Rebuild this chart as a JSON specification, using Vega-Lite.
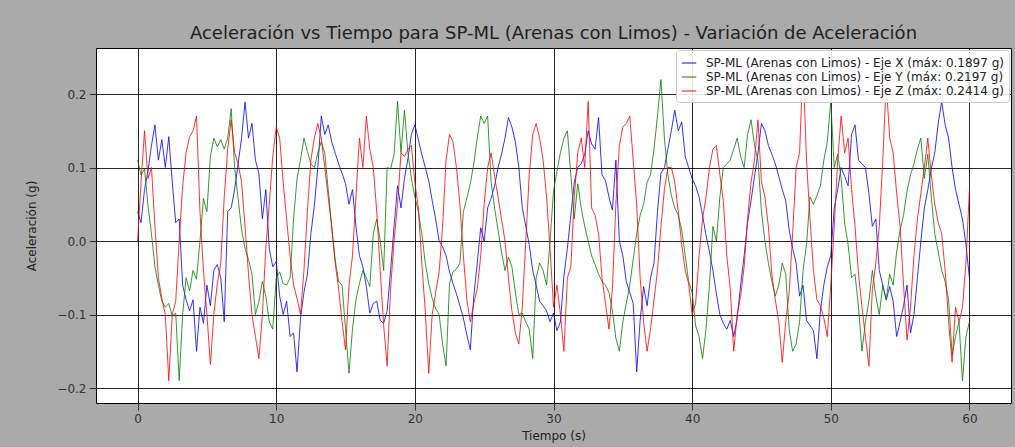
{
"$schema": "https://vega.github.io/schema/vega-lite/v6.json",
"width": 915,
"height": 355,
"autosize": {"type": "none"},
"padding": {"left": 96, "top": 48, "right": 4, "bottom": 44},
"background": "#aaaaaa",
"title": {"text": "Aceleración vs Tiempo para SP-ML (Arenas con Limos) - Variación de Aceleración", "font": "DejaVu Sans", "fontSize": 18, "fontWeight": "normal", "color": "#222222", "offset": 5, "anchor": "middle"},
"data": {"values": [
{"t":0,"x":0.04,"y":0.11,"z":0},
{"t":0.25,"x":0.025,"y":0.09,"z":0.08},
{"t":0.5,"x":0.07,"y":0.098,"z":0.15},
{"t":0.75,"x":0.095,"y":0.048,"z":0.085},
{"t":1,"x":0.13,"y":0.01,"z":0.1},
{"t":1.25,"x":0.158,"y":-0.035,"z":0.02},
{"t":1.5,"x":0.11,"y":-0.06,"z":-0.05},
{"t":1.75,"x":0.138,"y":-0.082,"z":-0.078},
{"t":2,"x":0.1,"y":-0.09,"z":-0.1},
{"t":2.25,"x":0.142,"y":-0.085,"z":-0.19},
{"t":2.5,"x":0.08,"y":-0.102,"z":-0.1},
{"t":2.75,"x":0.025,"y":-0.098,"z":-0.082},
{"t":3,"x":0.03,"y":-0.19,"z":0},
{"t":3.25,"x":-0.06,"y":-0.1,"z":0.075},
{"t":3.5,"x":-0.08,"y":-0.05,"z":0.12},
{"t":3.75,"x":-0.095,"y":-0.068,"z":0.142},
{"t":4,"x":-0.08,"y":-0.04,"z":0.15},
{"t":4.25,"x":-0.15,"y":-0.052,"z":0.17},
{"t":4.5,"x":-0.09,"y":0,"z":0.04},
{"t":4.75,"x":-0.112,"y":0.058,"z":-0.04},
{"t":5,"x":-0.06,"y":0.04,"z":-0.1},
{"t":5.25,"x":-0.088,"y":0.115,"z":-0.168},
{"t":5.5,"x":-0.04,"y":0.14,"z":-0.1},
{"t":5.75,"x":-0.032,"y":0.128,"z":-0.058},
{"t":6,"x":-0.05,"y":0.138,"z":-0.03},
{"t":6.25,"x":-0.11,"y":0.125,"z":0.06},
{"t":6.5,"x":0.04,"y":0.14,"z":0.125},
{"t":6.75,"x":0.045,"y":0.18,"z":0.165},
{"t":7,"x":0.07,"y":0.1,"z":0.12},
{"t":7.25,"x":0.105,"y":0.058,"z":0.105},
{"t":7.5,"x":0.14,"y":0.015,"z":0.08},
{"t":7.75,"x":0.189,"y":-0.01,"z":0.02},
{"t":8,"x":0.14,"y":-0.025,"z":-0.045},
{"t":8.25,"x":0.16,"y":-0.045,"z":-0.1},
{"t":8.5,"x":0.11,"y":-0.1,"z":-0.13},
{"t":8.75,"x":0.092,"y":-0.082,"z":-0.16},
{"t":9,"x":0.03,"y":-0.055,"z":-0.1},
{"t":9.25,"x":0.07,"y":-0.075,"z":-0.01},
{"t":9.5,"x":-0.01,"y":-0.11,"z":0.05},
{"t":9.75,"x":-0.035,"y":-0.12,"z":0.115},
{"t":10,"x":-0.028,"y":-0.05,"z":0.155},
{"t":10.25,"x":-0.075,"y":-0.042,"z":0.14},
{"t":10.5,"x":-0.1,"y":-0.058,"z":0.08},
{"t":10.75,"x":-0.082,"y":-0.06,"z":0.03},
{"t":11,"x":-0.13,"y":-0.05,"z":-0.02},
{"t":11.25,"x":-0.125,"y":0.03,"z":-0.06},
{"t":11.5,"x":-0.178,"y":0.085,"z":-0.078},
{"t":11.75,"x":-0.105,"y":0.11,"z":-0.1},
{"t":12,"x":-0.07,"y":0.14,"z":-0.04},
{"t":12.25,"x":-0.045,"y":0.122,"z":0.04},
{"t":12.5,"x":0.01,"y":0.105,"z":0.11},
{"t":12.75,"x":0.048,"y":0.1,"z":0.14},
{"t":13,"x":0.1,"y":0.12,"z":0.16},
{"t":13.25,"x":0.17,"y":0.135,"z":0.14},
{"t":13.5,"x":0.145,"y":0.12,"z":0.1},
{"t":13.75,"x":0.158,"y":0.07,"z":0.06},
{"t":14,"x":0.135,"y":0.02,"z":0.02},
{"t":14.25,"x":0.12,"y":-0.025,"z":-0.03},
{"t":14.5,"x":0.105,"y":-0.055,"z":-0.065},
{"t":14.75,"x":0.092,"y":-0.06,"z":-0.11},
{"t":15,"x":0.078,"y":-0.12,"z":-0.148},
{"t":15.25,"x":0.05,"y":-0.18,"z":-0.06},
{"t":15.5,"x":0.07,"y":-0.12,"z":-0.02},
{"t":15.75,"x":0.02,"y":-0.08,"z":0.06},
{"t":16,"x":-0.02,"y":-0.058,"z":0.14},
{"t":16.25,"x":-0.035,"y":-0.04,"z":0.1},
{"t":16.5,"x":-0.062,"y":-0.05,"z":0.17},
{"t":16.75,"x":-0.098,"y":-0.062,"z":0.125},
{"t":17,"x":-0.085,"y":0.01,"z":0.1},
{"t":17.25,"x":-0.082,"y":0.03,"z":0.04},
{"t":17.5,"x":-0.108,"y":0,"z":-0.04},
{"t":17.75,"x":-0.112,"y":-0.04,"z":-0.115},
{"t":18,"x":-0.095,"y":0.1,"z":-0.17},
{"t":18.25,"x":-0.04,"y":0.098,"z":-0.065},
{"t":18.5,"x":0.02,"y":0.118,"z":0},
{"t":18.75,"x":0.075,"y":0.19,"z":0.05},
{"t":19,"x":0.045,"y":0.12,"z":0.12},
{"t":19.25,"x":0.085,"y":0.178,"z":0.115},
{"t":19.5,"x":0.112,"y":0.12,"z":0.125},
{"t":19.75,"x":0.145,"y":0.085,"z":0.13},
{"t":20,"x":0.158,"y":0.06,"z":0.08},
{"t":20.25,"x":0.138,"y":0.04,"z":0.045},
{"t":20.5,"x":0.118,"y":0.01,"z":-0.03},
{"t":20.75,"x":0.1,"y":-0.03,"z":-0.095},
{"t":21,"x":0.082,"y":-0.058,"z":-0.18},
{"t":21.25,"x":0.055,"y":-0.078,"z":-0.1},
{"t":21.5,"x":0.03,"y":-0.092,"z":-0.07},
{"t":21.75,"x":0,"y":-0.1,"z":-0.042},
{"t":22,"x":-0.008,"y":-0.14,"z":0.02},
{"t":22.25,"x":-0.02,"y":-0.17,"z":0.11},
{"t":22.5,"x":-0.042,"y":-0.058,"z":0.145},
{"t":22.75,"x":-0.058,"y":-0.042,"z":0.135},
{"t":23,"x":-0.072,"y":-0.038,"z":0.1},
{"t":23.25,"x":-0.088,"y":-0.03,"z":0.05},
{"t":23.5,"x":-0.105,"y":0.04,"z":-0.02},
{"t":23.75,"x":-0.128,"y":0.058,"z":-0.08},
{"t":24,"x":-0.148,"y":0.078,"z":-0.11},
{"t":24.25,"x":-0.075,"y":0.105,"z":-0.085},
{"t":24.5,"x":-0.03,"y":0.14,"z":-0.065},
{"t":24.75,"x":0.018,"y":0.17,"z":-0.02},
{"t":25,"x":0,"y":0.16,"z":0.05},
{"t":25.25,"x":0.045,"y":0.17,"z":0.1},
{"t":25.5,"x":0.058,"y":0.08,"z":0.12},
{"t":25.75,"x":0.075,"y":0.045,"z":0.088},
{"t":26,"x":0.1,"y":0.015,"z":0.06},
{"t":26.25,"x":0.118,"y":-0.015,"z":0.03},
{"t":26.5,"x":0.14,"y":-0.04,"z":0},
{"t":26.75,"x":0.168,"y":-0.022,"z":-0.05},
{"t":27,"x":0.155,"y":-0.035,"z":-0.095},
{"t":27.25,"x":0.135,"y":-0.07,"z":-0.125},
{"t":27.5,"x":0.1,"y":-0.1,"z":-0.14},
{"t":27.75,"x":0.045,"y":-0.098,"z":-0.09},
{"t":28,"x":0.02,"y":-0.11,"z":0},
{"t":28.25,"x":-0.005,"y":-0.12,"z":0.09},
{"t":28.5,"x":-0.04,"y":-0.16,"z":0.145},
{"t":28.75,"x":-0.06,"y":-0.05,"z":0.16},
{"t":29,"x":-0.082,"y":-0.03,"z":0.14},
{"t":29.25,"x":-0.088,"y":-0.04,"z":0.11},
{"t":29.5,"x":-0.095,"y":-0.06,"z":0.06},
{"t":29.75,"x":-0.11,"y":0,"z":-0.01},
{"t":30,"x":-0.098,"y":0.068,"z":-0.09},
{"t":30.25,"x":-0.122,"y":0.095,"z":-0.06},
{"t":30.5,"x":-0.11,"y":0.12,"z":-0.1},
{"t":30.75,"x":-0.048,"y":0.14,"z":-0.15},
{"t":31,"x":-0.01,"y":0.15,"z":-0.05},
{"t":31.25,"x":0.035,"y":0.09,"z":-0.035},
{"t":31.5,"x":0.08,"y":0.03,"z":0.06},
{"t":31.75,"x":0.1,"y":0.078,"z":0.12},
{"t":32,"x":0.105,"y":0.045,"z":0.14},
{"t":32.25,"x":0.118,"y":0.02,"z":0.1},
{"t":32.5,"x":0.15,"y":0,"z":0.19},
{"t":32.75,"x":0.132,"y":-0.02,"z":0.045},
{"t":33,"x":0.125,"y":-0.032,"z":0.035},
{"t":33.25,"x":0.168,"y":-0.045,"z":0.01},
{"t":33.5,"x":0.09,"y":-0.055,"z":-0.05},
{"t":33.75,"x":0.082,"y":-0.06,"z":-0.085},
{"t":34,"x":0.06,"y":-0.07,"z":-0.12},
{"t":34.25,"x":0.042,"y":-0.095,"z":-0.065},
{"t":34.5,"x":0.11,"y":-0.132,"z":0.05},
{"t":34.75,"x":0,"y":-0.15,"z":0.13},
{"t":35,"x":-0.02,"y":-0.11,"z":0.155},
{"t":35.25,"x":-0.055,"y":-0.085,"z":0.16},
{"t":35.5,"x":-0.07,"y":-0.06,"z":0.17},
{"t":35.75,"x":-0.085,"y":-0.025,"z":0.11},
{"t":36,"x":-0.178,"y":0.01,"z":0.05},
{"t":36.25,"x":-0.108,"y":0.035,"z":-0.05},
{"t":36.5,"x":-0.062,"y":0.05,"z":-0.11},
{"t":36.75,"x":-0.088,"y":0.08,"z":-0.15},
{"t":37,"x":-0.05,"y":0.09,"z":-0.12},
{"t":37.25,"x":-0.03,"y":0.125,"z":-0.08},
{"t":37.5,"x":0.04,"y":0.17,"z":-0.04},
{"t":37.75,"x":0.092,"y":0.2197,"z":0.02},
{"t":38,"x":0.1,"y":0.14,"z":0.07},
{"t":38.25,"x":0.125,"y":0.09,"z":0.1},
{"t":38.5,"x":0.15,"y":0.062,"z":0.1},
{"t":38.75,"x":0.178,"y":0.045,"z":0.08},
{"t":39,"x":0.15,"y":0.035,"z":0.04},
{"t":39.25,"x":0.162,"y":0.015,"z":-0.005},
{"t":39.5,"x":0.115,"y":-0.02,"z":-0.04},
{"t":39.75,"x":0.1,"y":-0.055,"z":-0.058},
{"t":40,"x":0.085,"y":-0.07,"z":-0.1},
{"t":40.25,"x":0.075,"y":-0.115,"z":-0.085},
{"t":40.5,"x":0.06,"y":-0.13,"z":-0.02},
{"t":40.75,"x":0.035,"y":-0.16,"z":0.03},
{"t":41,"x":0.008,"y":-0.12,"z":0.06},
{"t":41.25,"x":-0.015,"y":-0.06,"z":0.1},
{"t":41.5,"x":-0.04,"y":0.02,"z":0.125},
{"t":41.75,"x":-0.072,"y":0,"z":0.13},
{"t":42,"x":-0.1,"y":0.06,"z":0.09},
{"t":42.25,"x":-0.112,"y":0.1,"z":0.055},
{"t":42.5,"x":-0.12,"y":0.105,"z":-0.02},
{"t":42.75,"x":-0.108,"y":0.11,"z":-0.065},
{"t":43,"x":-0.13,"y":0.125,"z":-0.15},
{"t":43.25,"x":-0.105,"y":0.14,"z":-0.1},
{"t":43.5,"x":-0.06,"y":0.115,"z":-0.075},
{"t":43.75,"x":-0.02,"y":0.1,"z":-0.035},
{"t":44,"x":0.025,"y":0.145,"z":0.03},
{"t":44.25,"x":0.055,"y":0.165,"z":0.08},
{"t":44.5,"x":0.088,"y":0.13,"z":0.11},
{"t":44.75,"x":0.12,"y":0.11,"z":0.165},
{"t":45,"x":0.16,"y":0.04,"z":0.08},
{"t":45.25,"x":0.15,"y":0,"z":0.06},
{"t":45.5,"x":0.13,"y":-0.03,"z":0.02},
{"t":45.75,"x":0.118,"y":-0.055,"z":-0.045},
{"t":46,"x":0.105,"y":-0.075,"z":-0.08},
{"t":46.25,"x":0.088,"y":-0.06,"z":-0.11},
{"t":46.5,"x":0.07,"y":-0.03,"z":-0.165},
{"t":46.75,"x":0.055,"y":-0.045,"z":-0.11},
{"t":47,"x":0.015,"y":-0.12,"z":-0.07},
{"t":47.25,"x":-0.01,"y":-0.15,"z":0.01},
{"t":47.5,"x":-0.03,"y":-0.14,"z":0.1},
{"t":47.75,"x":-0.075,"y":-0.11,"z":0.12},
{"t":48,"x":-0.06,"y":-0.04,"z":0.2414},
{"t":48.25,"x":-0.108,"y":-0.005,"z":0.11},
{"t":48.5,"x":-0.115,"y":0.06,"z":0.03},
{"t":48.75,"x":-0.122,"y":0.05,"z":-0.04},
{"t":49,"x":-0.16,"y":0.062,"z":-0.08},
{"t":49.25,"x":-0.095,"y":0.075,"z":-0.088},
{"t":49.5,"x":-0.06,"y":0.11,"z":-0.105},
{"t":49.75,"x":-0.035,"y":0.135,"z":-0.13},
{"t":50,"x":-0.02,"y":0.19,"z":-0.06},
{"t":50.25,"x":0.045,"y":0.1,"z":0.02},
{"t":50.5,"x":0.07,"y":0.118,"z":0.11},
{"t":50.75,"x":0.1,"y":0.085,"z":0.17},
{"t":51,"x":0.088,"y":0.025,"z":0.12},
{"t":51.25,"x":0.075,"y":-0.005,"z":0.14},
{"t":51.5,"x":0.145,"y":-0.05,"z":0.07},
{"t":51.75,"x":0.158,"y":-0.045,"z":0.02},
{"t":52,"x":0.11,"y":-0.09,"z":-0.045},
{"t":52.25,"x":0.105,"y":-0.15,"z":-0.09},
{"t":52.5,"x":0.1,"y":-0.11,"z":-0.13},
{"t":52.75,"x":0.065,"y":-0.082,"z":-0.17},
{"t":53,"x":0.02,"y":-0.04,"z":-0.065},
{"t":53.25,"x":0.03,"y":-0.075,"z":-0.03},
{"t":53.5,"x":-0.04,"y":-0.1,"z":0.02},
{"t":53.75,"x":-0.06,"y":-0.06,"z":0.11},
{"t":54,"x":-0.08,"y":-0.08,"z":0.215},
{"t":54.25,"x":-0.062,"y":-0.045,"z":0.14},
{"t":54.5,"x":-0.082,"y":-0.06,"z":0.12},
{"t":54.75,"x":-0.13,"y":-0.015,"z":0.065},
{"t":55,"x":-0.11,"y":0.015,"z":0.02},
{"t":55.25,"x":-0.088,"y":0.035,"z":-0.06},
{"t":55.5,"x":-0.06,"y":0.068,"z":-0.135},
{"t":55.75,"x":-0.125,"y":0.09,"z":-0.09},
{"t":56,"x":-0.1,"y":0.105,"z":-0.02},
{"t":56.25,"x":-0.05,"y":0.125,"z":0.03},
{"t":56.5,"x":0,"y":0.14,"z":0.065},
{"t":56.75,"x":0.045,"y":0.085,"z":0.1},
{"t":57,"x":0.07,"y":0.118,"z":0.14},
{"t":57.25,"x":0.098,"y":0.06,"z":0.09},
{"t":57.5,"x":0.12,"y":0.01,"z":0.05},
{"t":57.75,"x":0.16,"y":-0.015,"z":0.025},
{"t":58,"x":0.1897,"y":-0.04,"z":0.01},
{"t":58.25,"x":0.158,"y":-0.055,"z":-0.04},
{"t":58.5,"x":0.14,"y":-0.08,"z":-0.11},
{"t":58.75,"x":0.1,"y":-0.155,"z":-0.165},
{"t":59,"x":0.07,"y":-0.13,"z":-0.09},
{"t":59.25,"x":0.05,"y":-0.11,"z":-0.11},
{"t":59.5,"x":0.03,"y":-0.19,"z":-0.09},
{"t":59.75,"x":-0.005,"y":-0.13,"z":-0.03},
{"t":60,"x":-0.05,"y":-0.11,"z":0.07}
]},
"transform": [{"fold": ["x", "y", "z"], "as": ["eje", "a"]}],
"mark": {"type": "line", "strokeWidth": 1, "opacity": 0.8},
"encoding": {
  "x": {"field": "t", "type": "quantitative", "scale": {"domain": [-3, 63], "nice": false, "zero": false},
        "axis": {"title": "Tiempo (s)", "values": [0, 10, 20, 30, 40, 50, 60], "format": "d"}},
  "y": {"field": "a", "type": "quantitative", "scale": {"domain": [-0.2204, 0.2626], "nice": false, "zero": false},
        "axis": {"title": "Aceleración (g)", "values": [-0.2, -0.1, 0, 0.1, 0.2], "format": ".1f", "titlePadding": 18}},
  "color": {"field": "eje", "type": "nominal",
            "scale": {"domain": ["x", "y", "z"], "range": ["#0000ff", "#008000", "#ff0000"]},
            "legend": {"title": null, "orient": "top-right", "offset": 2, "fillColor": "rgba(255,255,255,0.88)", "strokeColor": "#cccccc", "cornerRadius": 3, "padding": 5,
                       "symbolType": "stroke", "symbolSize": 210, "symbolStrokeWidth": 1.2, "symbolOpacity": 0.8,
                       "labelFont": "DejaVu Sans", "labelFontSize": 12, "labelColor": "#222222", "labelLimit": 400, "rowPadding": 0, "labelOffset": 9,
                       "labelExpr": "datum.label == 'x' ? 'SP-ML (Arenas con Limos) - Eje X (máx: 0.1897 g)' : datum.label == 'y' ? 'SP-ML (Arenas con Limos) - Eje Y (máx: 0.2197 g)' : 'SP-ML (Arenas con Limos) - Eje Z (máx: 0.2414 g)'"}}
},
"config": {
  "view": {"fill": "white", "stroke": "#000000", "strokeWidth": 1},
  "axis": {"labelFont": "DejaVu Sans", "labelFontSize": 12, "labelColor": "#333333", "titleFont": "DejaVu Sans", "titleFontSize": 12, "titleFontWeight": "normal", "titleColor": "#222222",
           "domain": false, "tickColor": "#333333", "tickSize": 7, "labelPadding": 3, "gridColor": "#000000", "gridOpacity": 0.85, "gridWidth": 1, "titlePadding": 6}
}
}
